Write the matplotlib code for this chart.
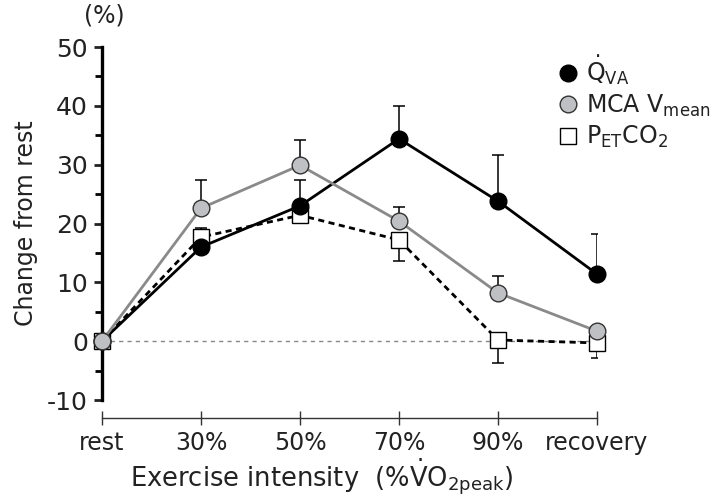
import numpy as np
import matplotlib
matplotlib.use("Agg")
import matplotlib.pyplot as plt
from matplotlib.lines import Line2D

plt.rcParams['font.family'] = ['DejaVu Sans']
plt.rcParams['mathtext.fontset'] = 'dejavusans'

# data
stages = ["rest", "30%", "50%", "70%", "90%", "recovery"]

q_va = [0, 16.0, 23.0, 34.4, 23.8, 11.4]
q_va_up = [0, 0.8, 4.4, 5.6, 7.8, 6.8]
q_va_lo = [0, 0, 0, 0, 0, 0]

mca = [0, 22.6, 29.9, 20.4, 8.2, 1.7]
mca_up = [0, 4.8, 4.3, 2.4, 2.9, 0]
mca_lo = [0, 0, 0, 0, 0, 0]

petco2 = [0, 17.7, 21.4, 17.2, 0.2, -0.3]
petco2_up = [0, 1.5, 0, 0, 0, 0]
petco2_lo = [0, 0, 0, 3.6, 3.9, 2.6]

x = np.arange(len(stages))

fig = plt.figure(figsize=(7.2, 4.97), dpi=100)
ax = fig.add_axes([102/720, 97/497, 495/720, 353/497])
ax.set_xlim(0, 5)
ax.set_ylim(-10, 50)

# zero line
ax.plot([0, 5], [0, 0], color="#888888", lw=1.0, ls=(0, (3, 3)), zorder=1)

gray = "#8a8a8a"
ax.errorbar(x, petco2, yerr=[petco2_lo, petco2_up], fmt="none", ecolor="black",
            elinewidth=1.1, capsize=4, capthick=1.1, zorder=2)
ax.errorbar(x, q_va, yerr=[q_va_lo, q_va_up], fmt="none", ecolor="black",
            elinewidth=1.1, capsize=4, capthick=1.1, zorder=2)
ax.errorbar(x, mca, yerr=[mca_lo, mca_up], fmt="none", ecolor="black",
            elinewidth=1.1, capsize=4, capthick=1.1, zorder=2)

ax.plot(x, petco2, color="black", lw=2.0, ls=(0, (2.2, 1.6)), marker="s", ms=11,
        mfc="white", mec="black", mew=1.0, zorder=3, clip_on=False)
ax.plot(x, q_va, color="black", lw=2.0, marker="o", ms=12,
        mfc="black", mec="black", zorder=4, clip_on=False)
ax.plot(x, mca, color=gray, lw=2.0, marker="o", ms=12,
        mfc="#bfc0c3", mec="#333333", mew=1.0, zorder=5, clip_on=False)

# spines
for s in ["top", "right"]:
    ax.spines[s].set_visible(False)
ax.spines["left"].set_linewidth(2.4)
ax.spines["left"].set_bounds(-10, 50)
ax.spines["bottom"].set_position(("outward", 13))
ax.spines["bottom"].set_bounds(0, 5)
ax.spines["bottom"].set_linewidth(1.0)
ax.spines["bottom"].set_color("#333333")

ax.set_yticks(np.arange(-10, 51, 10))
ax.set_yticklabels(["-10", "0", "10", "20", "30", "40", "50"])
ax.set_yticks(np.arange(-5, 50, 10), minor=True)
ax.tick_params(axis="y", which="major", direction="out", length=6, width=2.0,
               labelsize=18, pad=4, colors="#222222")
ax.tick_params(axis="y", which="minor", direction="out", length=5, width=2.0)
ax.set_xticks(x)
ax.set_xticklabels(stages)
ax.tick_params(axis="x", direction="inout", length=10, width=1.0, color="#333333",
               labelsize=17, pad=4, labelcolor="#222222")

ax.set_ylabel("Change from rest", fontsize=17, labelpad=7, color="#222222")
fig.text(104/720, 1 - 16/497, "(%)", fontsize=17, ha="center", va="center",
         color="#222222")
fig.text(322/720, 1 - 477/497,
         r"Exercise intensity  (%$\dot{\mathrm{V}}$O$_{\mathrm{2peak}}$)",
         fontsize=18.5, ha="center", va="center", color="#222222")

handles = [
    Line2D([], [], ls="none", marker="o", ms=12, mfc="black", mec="black"),
    Line2D([], [], ls="none", marker="o", ms=12, mfc="#bfc0c3", mec="#333333"),
    Line2D([], [], ls="none", marker="s", ms=11, mfc="white", mec="black"),
]
labels = [r"$\dot{\mathrm{Q}}_{\mathrm{VA}}$", r"MCA V$_{\mathrm{mean}}$",
          r"P$_{\mathrm{ET}}$CO$_{2}$"]
leg = fig.legend(handles, labels, loc="upper left",
                 bbox_to_anchor=(541/720, 1 - 44/497), frameon=False,
                 fontsize=17, handletextpad=0.0, labelspacing=0.22,
                 handlelength=1.5, borderaxespad=0)
for t in leg.get_texts():
    t.set_color("#222222")

fig.savefig("out.png", dpi=100)
